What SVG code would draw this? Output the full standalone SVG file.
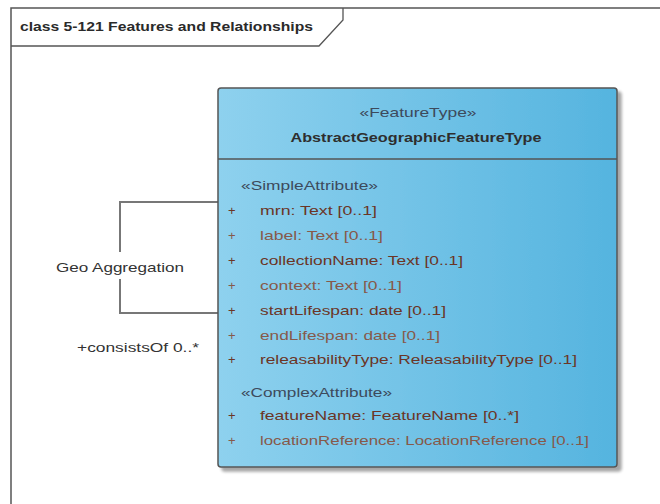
<svg xmlns="http://www.w3.org/2000/svg" width="660" height="504" viewBox="0 0 660 504">
<defs>
<linearGradient id="boxGrad" x1="0" y1="0" x2="1" y2="0">
<stop offset="0" stop-color="#8ed1ee"/>
<stop offset="1" stop-color="#55b4df"/>
</linearGradient>
<filter id="shadow" x="-5%" y="-5%" width="115%" height="115%">
<feGaussianBlur in="SourceAlpha" stdDeviation="1.5"/>
<feOffset dx="4" dy="4" result="b"/>
<feComponentTransfer><feFuncA type="linear" slope="0.35"/></feComponentTransfer>
<feMerge><feMergeNode/><feMergeNode in="SourceGraphic"/></feMerge>
</filter>
</defs>
<style>
text{font-family:"Liberation Sans","DejaVu Sans",sans-serif;font-size:13px}
.title{fill:#2a2a2a;font-weight:bold;font-size:13px}
.stereo{fill:#3d4a5c}
.name{fill:#2e2e2e;font-weight:bold}
.a1{fill:#6b3526}
.a2{fill:#86594a}
.plus{fill:#6b3526}
.plus2{fill:#86594a}
.lbl{fill:#333333}
.conn{fill:none;stroke:#777777;stroke-width:2}
</style>
<rect width="660" height="504" fill="#ffffff"/>
<g id="frame">
<path d="M11 504 V8 H660" fill="none" stroke="#555555" stroke-width="1.5"/>
<path d="M11 46 H319 L343 20 V8" fill="none" stroke="#555555" stroke-width="1.3"/>
<text class="title" x="20" y="31" textLength="293" lengthAdjust="spacingAndGlyphs">class 5-121 Features and Relationships</text>
</g>
<g id="connectors">
<path class="conn" d="M218 202 H120 V252 M120 279 V313 H218"/>
<text class="lbl" x="120" y="272" text-anchor="middle" textLength="128" lengthAdjust="spacingAndGlyphs">Geo Aggregation</text>
<text class="lbl" x="77" y="352" textLength="122" lengthAdjust="spacingAndGlyphs">+consistsOf 0..*</text>
</g>
<g id="AbstractGeographicFeatureType">
<rect x="218" y="88" width="399" height="379" rx="3" fill="url(#boxGrad)" stroke="#555555" stroke-width="1.5" filter="url(#shadow)"/>
<line x1="218" y1="159" x2="617" y2="159" stroke="#555555" stroke-width="1.5"/>
<text class="stereo" x="418" y="117" text-anchor="middle" textLength="117" lengthAdjust="spacingAndGlyphs">«FeatureType»</text>
<text class="name" x="416" y="142" text-anchor="middle" textLength="251" lengthAdjust="spacingAndGlyphs">AbstractGeographicFeatureType</text>
<text class="stereo" x="241" y="190" textLength="137" lengthAdjust="spacingAndGlyphs">«SimpleAttribute»</text>
<text class="plus" x="228" y="215">+</text>
<text class="a1" x="260" y="215" textLength="117" lengthAdjust="spacingAndGlyphs">mrn: Text [0..1]</text>
<text class="plus2" x="228" y="240">+</text>
<text class="a2" x="260" y="240" textLength="123" lengthAdjust="spacingAndGlyphs">label: Text [0..1]</text>
<text class="plus" x="228" y="265">+</text>
<text class="a1" x="260" y="265" textLength="203" lengthAdjust="spacingAndGlyphs">collectionName: Text [0..1]</text>
<text class="plus2" x="228" y="290">+</text>
<text class="a2" x="260" y="290" textLength="142" lengthAdjust="spacingAndGlyphs">context: Text [0..1]</text>
<text class="plus" x="228" y="315">+</text>
<text class="a1" x="260" y="315" textLength="186" lengthAdjust="spacingAndGlyphs">startLifespan: date [0..1]</text>
<text class="plus2" x="228" y="340">+</text>
<text class="a2" x="260" y="340" textLength="180" lengthAdjust="spacingAndGlyphs">endLifespan: date [0..1]</text>
<text class="plus" x="228" y="364">+</text>
<text class="a1" x="260" y="364" textLength="317" lengthAdjust="spacingAndGlyphs">releasabilityType: ReleasabilityType [0..1]</text>
<text class="stereo" x="241" y="397" textLength="151" lengthAdjust="spacingAndGlyphs">«ComplexAttribute»</text>
<text class="plus" x="228" y="420">+</text>
<text class="a1" x="260" y="420" textLength="259" lengthAdjust="spacingAndGlyphs">featureName: FeatureName [0..*]</text>
<text class="plus2" x="228" y="445">+</text>
<text class="a2" x="260" y="445" textLength="329" lengthAdjust="spacingAndGlyphs">locationReference: LocationReference [0..1]</text>
</g>
</svg>
